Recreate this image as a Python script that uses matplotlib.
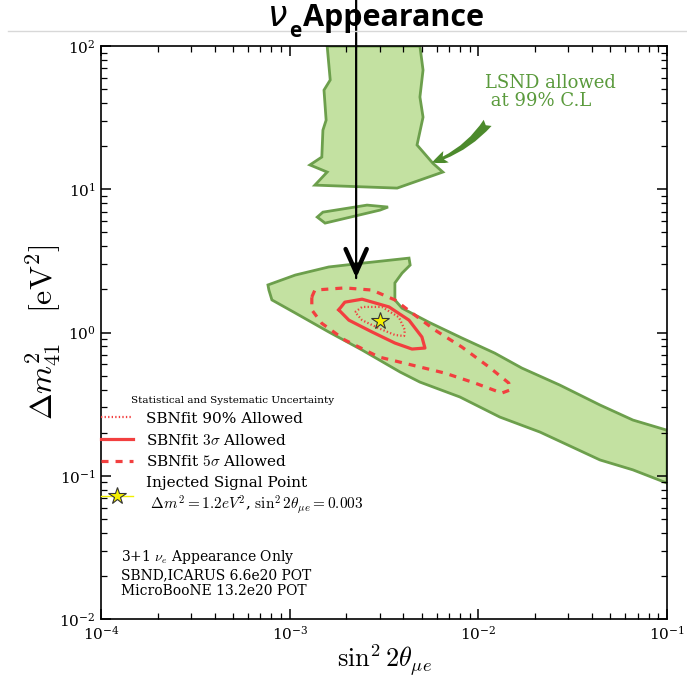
import matplotlib
matplotlib.use('Agg')
import matplotlib.pyplot as plt

plt.rcParams['font.family'] = ['DejaVu Serif']
plt.rcParams['mathtext.fontset'] = 'cm'

# ---------------- data ----------------
# LSND 99% C.L. allowed region: main band (sin^2 2theta, dm^2 [eV^2])
lsnd_band_x = [7.67e-4, 1.07e-3, 1.61e-3, 2.42e-3, 4.29e-3, 4.35e-3, 3.94e-3, 3.61e-3,
               3.61e-3, 3.94e-3, 5.47e-3, 8.18e-3, 1.22e-2, 1.70e-2, 2.70e-2, 4.41e-2,
               6.59e-2, 0.1, 0.1, 6.59e-2, 4.41e-2, 2.12e-2, 1.30e-2, 7.98e-3, 4.90e-3,
               3.85e-3, 2.42e-3, 1.61e-3, 1.07e-3, 8.05e-4, 7.76e-4]
lsnd_band_y = [2.15, 2.52, 2.87, 3.05, 3.31, 2.96, 2.60, 2.22,
               1.69, 1.48, 1.18, 0.916, 0.719, 0.565, 0.430, 0.312,
               0.245, 0.208, 0.0889, 0.110, 0.129, 0.202, 0.257, 0.355, 0.451,
               0.530, 0.755, 1.01, 1.37, 1.69, 1.98]
# LSND upper (high dm^2) strip
lsnd_strip_x = [1.58e-3, 1.64e-3, 1.52e-3, 1.56e-3, 1.50e-3, 1.48e-3, 1.28e-3, 1.58e-3,
                1.36e-3, 3.71e-3, 6.48e-3, 5.74e-3, 4.73e-3, 5.09e-3, 4.90e-3, 5.09e-3, 4.90e-3]
lsnd_strip_y = [100, 58, 49.3, 30.4, 25.9, 16.8, 14.8, 13.2,
                10.7, 10.2, 13.2, 15.2, 20.4, 31.9, 44.1, 68, 100]
# LSND small island
lsnd_island_x = [1.40e-3, 1.54e-3, 3.01e-3, 3.32e-3, 2.57e-3, 1.50e-3]
lsnd_island_y = [6.40, 5.81, 7.16, 7.52, 7.76, 6.93]

# SBNfit contours
c5_x = [1.31e-3, 1.36e-3, 1.96e-3, 2.73e-3, 3.61e-3, 4.45e-3, 5.89e-3, 8.18e-3, 1.14e-2,
        1.45e-2, 1.47e-2, 1.33e-2, 9.59e-3, 6.65e-3, 4.45e-3, 2.97e-3, 1.96e-3, 1.48e-3, 1.31e-3]
c5_y = [1.77, 1.98, 2.05, 1.98, 1.69, 1.37, 1.04, 0.792, 0.574,
        0.444, 0.397, 0.378, 0.444, 0.521, 0.593, 0.675, 0.887, 1.16, 1.44]
c3_x = [1.82e-3, 1.96e-3, 2.42e-3, 3.36e-3, 4.29e-3, 5.02e-3, 5.21e-3, 4.45e-3, 3.61e-3,
        2.73e-3, 2.06e-3]
c3_y = [1.44, 1.63, 1.71, 1.51, 1.22, 0.931, 0.780, 0.767, 0.845, 1.01, 1.22]
c90_x = [2.22e-3, 2.42e-3, 3.08e-3, 3.79e-3, 4.08e-3, 4.04e-3, 3.61e-3, 2.97e-3, 2.42e-3]
c90_y = [1.39, 1.51, 1.51, 1.28, 1.04, 0.946, 0.962, 1.07, 1.22]

inj_x = [0.003]
inj_y = [1.2]
arrow_x = 2.25e-3
arrow_tip_y = 2.4

# ---------------- styles ----------------
green_fill = '#c3e1a1'
green_edge = '#6c9f4c'
red = '#f23f3f'

fig = plt.figure(figsize=(6.87, 6.78), dpi=100)
ax = fig.add_axes([0.147, 0.087, 0.824, 0.845])
ax.set_xscale('log')
ax.set_yscale('log')
ax.set_xlim(1e-4, 1e-1)
ax.set_ylim(1e-2, 1e2)

for xs, ys in [(lsnd_band_x, lsnd_band_y), (lsnd_strip_x, lsnd_strip_y),
               (lsnd_island_x, lsnd_island_y)]:
    ax.fill(xs, ys, facecolor=green_fill, edgecolor=green_edge, lw=2.0, zorder=1)

def closed(a):
    return list(a) + [a[0]]

ax.plot(closed(c90_x), closed(c90_y), color=red, lw=1.6, ls=(0, (0.6, 1.0)),
        label='SBNfit 90% Allowed', zorder=3)
ax.plot(closed(c3_x), closed(c3_y), color=red, lw=2.3, ls='-',
        label=r'SBNfit $3\sigma$ Allowed', zorder=3)
ax.plot(closed(c5_x), closed(c5_y), color=red, lw=2.3, ls=(0, (2.2, 2.2)),
        label=r'SBNfit $5\sigma$ Allowed', zorder=3)
ax.plot(inj_x, inj_y, color='#f2f000', ls='-', lw=1.0, marker='*', ms=13,
        markerfacecolor='#f5f000', markeredgecolor='#333333', markeredgewidth=0.8,
        label='Injected Signal Point\n' + r' $\Delta m^2=1.2eV^2$, $\sin^2 2\theta_{\mu e}=0.003$',
        zorder=4)

leg = ax.legend(loc='upper left', bbox_to_anchor=(-0.005, 0.395), frameon=False,
                fontsize=11, title='Statistical and Systematic Uncertainty',
                title_fontsize=7.5, handlelength=2.1, handletextpad=0.8,
                labelspacing=0.45, borderaxespad=0.0, borderpad=0.2)

ax.text(0.035, 0.124, '3+1 $\\nu_e$ Appearance Only\nSBND,ICARUS 6.6e20 POT\nMicroBooNE 13.2e20 POT',
        transform=ax.transAxes, ha='left', va='top', fontsize=10, linespacing=1.2)

ax.text(0.678, 0.952, 'LSND allowed\n at 99% C.L', transform=ax.transAxes, ha='left',
        va='top', fontsize=13, color='#5a9a3c', linespacing=1.05)
ax.annotate('', xy=(0.585, 0.797), xytext=(0.683, 0.866), xycoords='axes fraction',
            textcoords='axes fraction',
            arrowprops=dict(arrowstyle='fancy,head_length=0.6,head_width=0.5,tail_width=0.4',
                            color='#4c8a2c', connectionstyle='arc3,rad=-0.15', lw=0,
                            mutation_scale=18, shrinkA=0, shrinkB=0))

ax.set_xlabel(r'$\sin^2 2\theta_{\mu e}$', fontsize=19, labelpad=0)
ax.set_ylabel(r'$\Delta m^2_{41}\ \ \ [\mathrm{eV}^2]$', fontsize=23, labelpad=-3)

ax.tick_params(which='both', direction='in', top=True, right=True, labelsize=11, pad=4)
ax.tick_params(which='major', length=7.5, width=1.1)
ax.tick_params(which='minor', length=4.5, width=0.9)
for s in ax.spines.values():
    s.set_linewidth(1.2)

# title and header rule
fig.add_artist(plt.Line2D([0.012, 1.0], [0.955, 0.955], color='#d8d8d8', lw=1.0))
fig.text(0.388, 0.962, r'$\nu$', fontsize=25, fontweight='bold', ha='left', va='baseline',
         family='DejaVu Sans', style='italic', math_fontfamily='dejavusans')
fig.text(0.421, 0.946, 'e', fontsize=15, fontweight='bold', ha='left', va='baseline',
         family='Open Sans')
fig.text(0.441, 0.962, 'Appearance', fontsize=22, fontweight='bold', ha='left',
         va='baseline', family='Open Sans')

# black arrow
ax.annotate('', xy=(arrow_x, arrow_tip_y), xytext=(arrow_x, 1.0), xycoords='data',
            textcoords=('data', 'figure fraction'),
            arrowprops=dict(arrowstyle='-', color='black', lw=1.6, shrinkA=0, shrinkB=0),
            annotation_clip=False, zorder=10)
ax.annotate('', xy=(arrow_x, arrow_tip_y), xytext=(arrow_x, arrow_tip_y * 1.25), xycoords='data',
            textcoords='data',
            arrowprops=dict(arrowstyle='->,head_length=0.85,head_width=0.38', color='black',
                            lw=3.2, shrinkA=0, shrinkB=0, mutation_scale=20),
            annotation_clip=False, zorder=10)

fig.savefig('out.png', dpi=100)
